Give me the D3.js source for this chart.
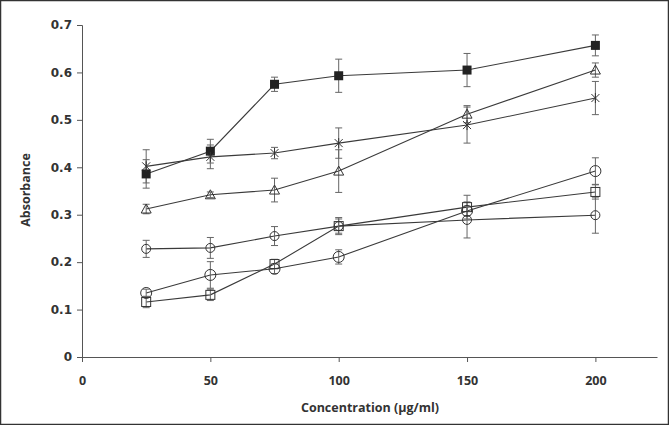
<!DOCTYPE html>
<html><head><meta charset="utf-8">
<script src="https://cdn.jsdelivr.net/npm/d3@7"></script>
<style>body{margin:0;background:#fff}svg{display:block}</style>
</head><body>
<svg id="c" width="669" height="425"></svg>
<script>
const concentrations = [25, 50, 75, 100, 150, 200];
const xTicks = [0, 50, 100, 150, 200];
const yTicks = [0, 0.1, 0.2, 0.3, 0.4, 0.5, 0.6, 0.7];
const yTickLabels = ["0", "0.1", "0.2", "0.3", "0.4", "0.5", "0.6", "0.7"];
const filledSquare = [0.386, 0.434, 0.575, 0.593, 0.605, 0.657];
const filledSquareErr = [0.03, 0.025, 0.015, 0.035, 0.035, 0.022];
const asterisk = [0.402, 0.422, 0.430, 0.451, 0.489, 0.546];
const asteriskErr = [0.035, 0.025, 0.012, 0.032, 0.038, 0.035];
const triangle = [0.312, 0.342, 0.352, 0.392, 0.512, 0.605];
const triangleErr = [0.01, 0.006, 0.025, 0.045, 0.018, 0.015];
const smallCircle = [0.228, 0.230, 0.255, 0.276, 0.289, 0.299];
const smallCircleErr = [0.018, 0.022, 0.02, 0.015, 0.038, 0.038];
const largeCircle = [0.135, 0.173, 0.186, 0.211, 0.308, 0.392];
const largeCircleErr = [0.008, 0.028, 0.01, 0.015, 0.01, 0.028];
const openSquare = [0.116, 0.131, 0.196, 0.276, 0.316, 0.348];
const openSquareErr = [0.012, 0.012, 0.01, 0.018, 0.025, 0.015];

const series = [
  {name: "filledSquare", v: filledSquare, e: filledSquareErr, m: "fsq"},
  {name: "asterisk", v: asterisk, e: asteriskErr, m: "ast"},
  {name: "triangle", v: triangle, e: triangleErr, m: "tri"},
  {name: "smallCircle", v: smallCircle, e: smallCircleErr, m: "scir"},
  {name: "largeCircle", v: largeCircle, e: largeCircleErr, m: "lcir"},
  {name: "openSquare", v: openSquare, e: openSquareErr, m: "osq"}
];

const svg = d3.select("#c");
svg.append("rect").attr("x", 0.5).attr("y", 0.5).attr("width", 668).attr("height", 424)
  .attr("fill", "#fff").attr("stroke", "#333").attr("stroke-width", 1.5);

const x = d3.scaleLinear().domain([0, 224]).range([82, 657]);
const y = d3.scaleLinear().domain([0, 0.7]).range([357, 25]);
const axisCol = "#555";
const textCol = "#333";

// y axis
const ya = svg.append("g").attr("transform", "translate(82,0)")
  .call(d3.axisLeft(y).tickValues(yTicks).tickFormat((d, i) => yTickLabels[i]).tickSize(5).tickPadding(5));
ya.select(".domain").attr("stroke", axisCol);
ya.selectAll(".tick line").attr("stroke", axisCol);
ya.selectAll("text").attr("fill", textCol).style("font-family", "DejaVu Sans").style("font-weight", "bold").style("font-size", "12px");

// x axis
const xa = svg.append("g").attr("transform", "translate(0,357)")
  .call(d3.axisBottom(x).tickValues(xTicks).tickFormat(d3.format("d")).tickSize(5).tickPadding(14).tickSizeOuter(0));
xa.select(".domain").attr("stroke", axisCol);
xa.selectAll(".tick line").attr("stroke", axisCol);
xa.selectAll("text").attr("fill", textCol).style("font-family", "Open Sans").style("font-weight", "bold").style("font-size", "12.5px");

svg.append("text").attr("x", 370).attr("y", 412).attr("text-anchor", "middle")
  .attr("fill", textCol).style("font-family", "Open Sans").style("font-weight", "bold").style("font-size", "12.5px")
  .text("Concentration (µg/ml)");
svg.append("text").attr("transform", "translate(30,190) rotate(-90)").attr("text-anchor", "middle")
  .attr("fill", textCol).style("font-family", "Open Sans").style("font-weight", "bold").style("font-size", "12.5px")
  .text("Absorbance");

const line = d3.line().x((d, i) => x(concentrations[i])).y(d => y(d));
const gLines = svg.append("g");
const gErr = svg.append("g");
const gMark = svg.append("g");

series.forEach(s => {
  gLines.append("path").attr("d", line(s.v)).attr("fill", "none").attr("stroke", "#3a3a3a").attr("stroke-width", 1.1);
  s.v.forEach((v, i) => {
    const cx = x(concentrations[i]);
    const y1 = y(v + s.e[i]), y2 = y(v - s.e[i]);
    gErr.append("line").attr("x1", cx).attr("x2", cx).attr("y1", y1).attr("y2", y2).attr("stroke", "#666").attr("stroke-width", 1);
    [y1, y2].forEach(yy => gErr.append("line").attr("x1", cx - 3.5).attr("x2", cx + 3.5).attr("y1", yy).attr("y2", yy).attr("stroke", "#666").attr("stroke-width", 1));
    const cy = y(v);
    const g = gMark.append("g").attr("transform", `translate(${cx},${cy})`);
    const st = "#333";
    if (s.m === "fsq") {
      g.append("rect").attr("x", -4.5).attr("y", -4.5).attr("width", 9).attr("height", 9).attr("fill", "#222");
    } else if (s.m === "osq") {
      g.append("rect").attr("x", -4.5).attr("y", -4.5).attr("width", 9).attr("height", 9).attr("fill", "none").attr("stroke", st);
    } else if (s.m === "tri") {
      g.append("path").attr("d", "M0,-5L5,4L-5,4Z").attr("fill", "none").attr("stroke", st);
    } else if (s.m === "scir") {
      g.append("circle").attr("r", 4.5).attr("fill", "none").attr("stroke", st);
    } else if (s.m === "lcir") {
      g.append("circle").attr("r", 5.5).attr("fill", "none").attr("stroke", st);
    } else if (s.m === "ast") {
      g.append("path").attr("d", "M-4,-4L4,4M-4,4L4,-4M0,-5L0,5").attr("fill", "none").attr("stroke", st);
    }
  });
});
</script>
</body></html>
